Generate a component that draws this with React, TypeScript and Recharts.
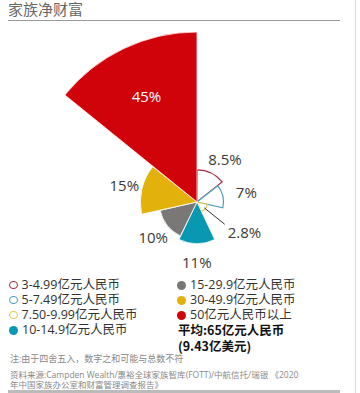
import React from 'react';
import {
  RadialBarChart,
  RadialBar,
  PolarAngleAxis,
  PolarRadiusAxis,
  Cell,
  LabelList,
} from 'recharts';

// ---- data ----
const categories = [
  '3-4.99亿元人民币',
  '5-7.49亿元人民币',
  '7.50-9.99亿元人民币',
  '10-14.9亿元人民币',
  '15-29.9亿元人民币',
  '30-49.9亿元人民币',
  '50亿元人民币以上',
];
const shares = [8.5, 7, 2.8, 11, 10, 15, 45];
const shareLabels = ['8.5%', '7%', '2.8%', '11%', '10%', '15%', '45%'];
const title = '家族净财富';
const averageLines = ['平均:65亿元人民币', '(9.43亿美元)'];
const notes = [
  '注:由于四舍五入，数字之和可能与总数不符',
  '资料来源:Campden Wealth/惠裕全球家族智库(FOTT)/中航信托/瑞银  《2020',
  '年中国家族办公室和财富管理调查报告》',
];

// ---- styles ----
const fills = ['#ffffff', '#ffffff', '#ffffff', '#0898b2', '#7a7876', '#e2b10b', '#d0030b'];
const strokes = ['#a32a3c', '#4f9dbb', '#e6c44c', '#ffffff', '#ffffff', '#ffffff', '#ffeeee'];
const outlined = [true, true, true, false, false, false, false];

const data = categories.map((name, i) => ({ name, value: shares[i], label: shareLabels[i] }));

const FONT = '"Open Sans", "Noto Sans CJK SC", sans-serif';
const BAND = 360 / categories.length;
const START = 90 - BAND;

const renderLabel = (p: any) => {
  const vb = p.viewBox || p;
  const { cx, cy, outerRadius, startAngle, endAngle } = vb;
  if (cx == null) return null;
  const mid = (startAngle + endAngle) / 2;
  const rad = (-mid * Math.PI) / 180;
  const cos = Math.cos(rad);
  const sin = Math.sin(rad);
  if (outerRadius > 100) {
    const r = outerRadius * 0.69;
    return (
      <text x={cx + r * cos} y={cy + r * sin} fill="#ffffff" fontSize={15} fontFamily={FONT}
        textAnchor="middle" dominantBaseline="central">{p.value}</text>
    );
  }
  if (outerRadius < 15) {
    const r0 = outerRadius - 1;
    const r1 = outerRadius + 25;
    const x0 = cx + r0 * cos, y0 = cy + r0 * sin;
    const x1 = cx + r1 * cos, y1 = cy + r1 * sin;
    return (
      <g>
        <line x1={x0} y1={y0} x2={x1} y2={y1} stroke="#333" strokeWidth={1} />
        <text x={x1 + 3} y={y1 + 8} fill="#3a3a3a" fontSize={15} fontFamily={FONT}
          textAnchor="start" dominantBaseline="central">{p.value}</text>
      </g>
    );
  }
  const r = outerRadius + 18;
  const shift = cos > 0.3 ? 6 : 0;
  return (
    <text x={cx + r * cos + shift} y={cy + r * sin + (sin < -0.5 ? 2 : 0)} fill="#3a3a3a" fontSize={15} fontFamily={FONT}
      textAnchor="middle" dominantBaseline="central">{p.value}</text>
  );
};

const LegendItem = ({ i, x, y }: { i: number; x: number; y: number }) => {
  const color = outlined[i] ? strokes[i] : fills[i];
  return (
    <div style={{ position: 'absolute', left: x, top: y - 7, height: 14, display: 'flex', alignItems: 'center', whiteSpace: 'nowrap' }}>
      <span
        style={{
          display: 'inline-block',
          width: outlined[i] ? 6.5 : 9,
          height: outlined[i] ? 6.5 : 9,
          borderRadius: '50%',
          border: outlined[i] ? `1.7px solid ${color}` : 'none',
          background: outlined[i] ? '#fff' : color,
          marginRight: 4,
        }}
      />
      <span style={{ fontSize: 12.5, lineHeight: '14px', color: '#333', fontFamily: FONT }}>{categories[i]}</span>
    </div>
  );
};

export default function App() {
  return (
    <div style={{ position: 'absolute', left: 0, top: 0, width: 360, height: 393, background: '#fff', overflow: 'hidden', fontFamily: FONT }}>
      <div style={{ position: 'absolute', left: 8, top: 0, fontSize: 15, color: '#666', lineHeight: '18px' }}>{title}</div>
      <div style={{ position: 'absolute', left: 8, top: 20, width: 332, height: 1, background: '#999' }} />
      <div style={{ position: 'absolute', left: 355, top: 0, width: 1, height: 393, background: '#ddd' }} />
      <div style={{ position: 'absolute', left: 0, top: 0 }}>
        <RadialBarChart
          width={360}
          height={393}
          data={data}
          cx={197}
          cy={202}
          innerRadius={0}
          outerRadius={170}
          startAngle={START}
          endAngle={START - 360}
          layout="centric"
          barCategoryGap={0}
          margin={{ top: 0, right: 0, bottom: 0, left: 0 }}
        >
          <PolarAngleAxis type="category" dataKey="name" tick={false} axisLine={false} tickLine={false} />
          <PolarRadiusAxis type="number" domain={[0, 45]} tick={false} axisLine={false} tickLine={false} />
          <RadialBar dataKey="value" isAnimationActive={false}>
            {data.map((d, i) => (
              <Cell key={d.name} fill={fills[i]} stroke={strokes[i]} strokeWidth={outlined[i] ? 1.2 : 0.8} />
            ))}
            <LabelList dataKey="label" content={renderLabel} />
          </RadialBar>
        </RadialBarChart>
      </div>
      {[0, 1, 2, 3].map((i) => (
        <LegendItem key={i} i={i} x={9} y={285 + i * 15} />
      ))}
      {[4, 5, 6].map((i) => (
        <LegendItem key={i} i={i} x={177} y={285 + (i - 4) * 15} />
      ))}
      <div style={{ position: 'absolute', left: 178, top: 322, fontSize: 12.5, fontWeight: 700, color: '#111', lineHeight: '16px', fontFamily: '"Noto Sans CJK SC", sans-serif' }}>
        <div>{averageLines[0]}</div>
        <div>{averageLines[1]}</div>
      </div>
      <div style={{ position: 'absolute', left: 10, top: 354, fontSize: 9, color: '#888', lineHeight: '10px', whiteSpace: 'nowrap' }}>{notes[0]}</div>
      <div style={{ position: 'absolute', left: 10, top: 370, fontSize: 8.5, color: '#888', lineHeight: '9.5px', whiteSpace: 'nowrap' }}>
        <div>{notes[1]}</div>
        <div>{notes[2]}</div>
      </div>
      <div style={{ position: 'absolute', left: 8, top: 390, width: 332, height: 3, background: '#bbb' }} />
    </div>
  );
}
